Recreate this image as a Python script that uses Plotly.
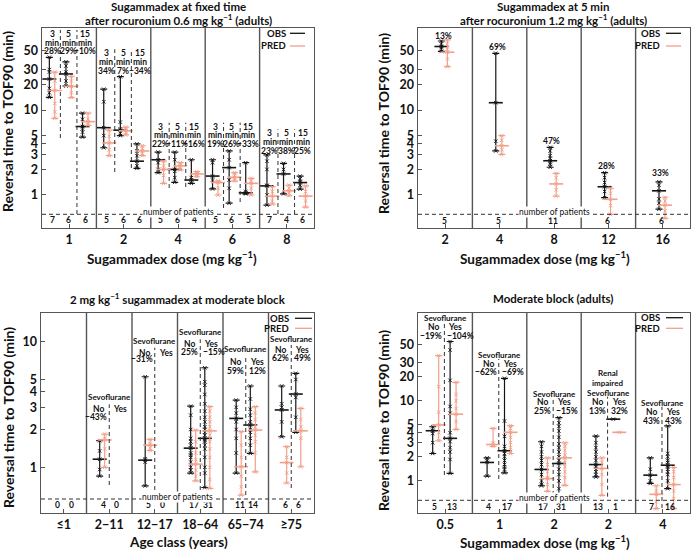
import plotly.graph_objects as go

W, H = 691, 550
OBS_C = "#141414"
PRED_C = "#f2a08a"
FRAME_C = "#555555"
DASH_C = "#333333"
FONT = "Lato"

# ================= DATA =================
# Panel A: sugammadex at fixed time after rocuronium 0.6 mg/kg
a_doses = ["1", "2", "4", "6", "8"]
a_times = ["3", "5", "15"]
a_pct = [["28%", "29%", "−10%"], ["34%", "7%", "−34%"], ["22%", "−11%", "−16%"],
         ["19%", "26%", "−33%"], ["23%", "38%", "25%"]]
a_n = [[7, 6, 6], [5, 6, 6], [5, 6, 4], [5, 6, 5], [7, 4, 6]]
a_obs_med = [[23.2, 26.6, 6.4], [6.2, 5.8, 2.5], [2.6, 2.0, 1.5], [1.67, 2.1, 1.06], [1.28, 1.77, 1.4]]
a_obs_pts = [
    [[41.8, 30, 28, 23.2, 18, 16, 14.1], [37, 33, 28, 26.6, 22, 19.2], [9.2, 7.8, 6.4, 6.0, 5.5, 4.8]],
    [[17.6, 12.5, 6.2, 5.0, 3.6], [24.7, 7.2, 6.0, 5.8, 5.3, 5.0], [4.0, 3.3, 2.9, 2.5, 2.2, 2.06]],
    [[3.2, 2.6, 2.4, 2.0, 1.83], [3.2, 2.6, 2.0, 1.9, 1.6, 1.41], [2.6, 1.6, 1.5, 1.37]],
    [[2.6, 2.4, 1.67, 1.5, 1.18], [3.3, 2.6, 2.1, 1.5, 1.2, 0.8], [2.4, 1.1, 1.06, 1.05, 1.03]],
    [[2.96, 2.5, 2.0, 1.3, 1.28, 1.0, 0.76], [2.36, 2.0, 1.77, 1.03], [1.67, 1.55, 1.45, 1.4, 1.3, 1.17]],
]
a_pred_med = [[17, 19, 7.3], [4.1, 5.7, 3.3], [2.0, 2.2, 1.77], [1.4, 1.62, 1.37], [0.97, 1.12, 0.97]]
a_pred_pts = [
    [[28, 22, 17, 12, 9.5, 8], [25, 22, 19, 16, 14], [9.2, 7.8, 7.3, 6.8, 6.6]],
    [[5.8, 4.9, 4.1, 3.4, 2.9], [6.3, 6.0, 5.7, 5.4, 5.1], [3.8, 3.5, 3.3, 3.1, 2.9]],
    [[2.5, 2.2, 2.0, 1.7, 1.37], [2.4, 2.3, 2.2, 2.1, 1.97], [1.88, 1.8, 1.77, 1.7, 1.64]],
    [[1.46, 1.42, 1.4, 1.2, 1.0], [1.83, 1.7, 1.62, 1.55, 1.46], [1.57, 1.45, 1.37, 1.2, 1.0]],
    [[1.25, 1.1, 0.97, 0.85, 0.78], [1.31, 1.2, 1.12, 1.05, 0.98], [1.28, 1.1, 0.97, 0.85, 0.72]],
]

# Panel B: sugammadex at 5 min after rocuronium 1.2 mg/kg
b_doses = ["2", "4", "8", "12", "16"]
b_pct = ["13%", "69%", "47%", "28%", "33%"]
b_n = [5, 5, 11, 6, 6]
b_obs_med = [56, 12.2, 2.53, 1.25, 1.12]
b_obs_pts = [[65, 60, 56, 52, 49], [46.6, 12.2, 4.3, 3.3],
             [3.64, 3.3, 2.9, 2.7, 2.53, 2.4, 2.3, 2.12],
             [1.83, 1.6, 1.4, 1.25, 1.1, 0.93], [1.43, 1.3, 1.12, 0.9, 0.8, 0.68]]
b_pred_med = [48, 3.8, 1.35, 0.89, 0.76]
b_pred_pts = [[67, 60, 52, 48, 40, 32.4], [5.0, 4.4, 3.8, 3.4, 3.0], [1.8, 1.6, 1.35, 1.15, 0.97],
              [1.2, 1.05, 0.89, 0.75, 0.59], [0.94, 0.85, 0.76, 0.65, 0.53]]

# Panel C: 2 mg/kg sugammadex at moderate block, by age class
c_ages = ["≤1", "2−11", "12−17", "18−64", "65−74", "≥75"]
c_sevo = ["No", "Yes"]
c_pct = [None, ["−43%", ""], ["−31%", ""], ["25%", "−15%"], ["59%", "12%"], ["62%", "49%"]]
c_n = [[0, 0], [4, 0], [5, 0], [17, 31], [11, 14], [6, 6]]
c_obs_med = [[None, None], [1.16, None], [1.14, None], [1.42, 1.70], [2.45, 2.17], [2.86, 3.83]]
c_obs_pts = [
    [[], []],
    [[1.63, 1.35, 1.16, 0.96, 0.85], []],
    [[5.26, 1.17, 1.14, 1.1, 0.71], []],
    [[3.07, 2.6, 2.0, 1.7, 1.6, 1.5, 1.42, 1.3, 1.25, 1.2, 1.1, 1.0, 0.95, 0.9],
     [6.2, 4.8, 4.5, 3.8, 3.2, 2.8, 2.5, 2.3, 2.1, 2.0, 1.9, 1.8, 1.7, 1.65, 1.6, 1.5, 1.4, 1.2, 1.0, 0.9, 0.69]],
    [[3.43, 3.0, 2.7, 2.45, 2.3, 2.0, 1.7, 1.3, 0.9],
     [4.44, 3.5, 2.9, 2.6, 2.3, 2.17, 2.0, 1.9, 1.7, 1.5, 1.29]],
    [[4.44, 3.2, 3.0, 2.86, 2.3, 1.75], [5.6, 5.0, 3.83, 3.6, 2.5, 1.9]],
]
c_pred_med = [[None, None], [1.65, None], [1.5, None], [1.06, 1.95], [1.01, 1.98], [1.09, 1.95]]
c_pred_pts = [
    [[], []],
    [[1.84, 1.7, 1.65, 1.4, 1.0], []],
    [[1.67, 1.55, 1.5, 1.42, 1.36], []],
    [[1.98, 1.6, 1.3, 1.15, 1.06, 0.95, 0.85, 0.78],
     [3.04, 2.8, 2.5, 2.3, 2.1, 1.95, 1.8, 1.6, 1.4, 1.2, 1.0, 0.8, 0.68]],
    [[1.92, 1.5, 1.2, 1.01, 0.85, 0.7, 0.6], [3.04, 2.7, 2.4, 2.1, 1.98, 1.8, 1.6, 1.3, 0.92]],
    [[1.46, 1.2, 1.09, 0.9, 0.75], [2.95, 2.4, 2.1, 1.95, 1.7, 1.01]],
]

# Panel D: moderate block (adults)
d_doses = ["0.5", "1", "2", "2", "4"]
d_head = [["Sevoflurane"], ["Sevoflurane"], ["Sevoflurane"], ["Renal", "impaired", "Sevoflurane"], ["Sevoflurane"]]
d_pct = [["−19%", "−104%"], ["−62%", "−69%"], ["25%", "−15%"], ["13%", "32%"], ["43%", "43%"]]
d_n = [[5, 13], [4, 17], [17, 31], [13, 1], [7, 16]]
d_obs_med = [[4.23, 3.4], [1.7, 2.38], [1.39, 1.65], [1.6, 5.9], [1.18, 1.57]]
d_obs_pts = [
    [[4.74, 4.23, 3.9, 3.0, 2.2], [55, 43, 18, 8.5, 7, 4.0, 3.4, 3.1, 2.6, 2.3, 1.85, 1.24]],
    [[1.94, 1.8, 1.7, 1.15], [19.1, 5.6, 3.6, 2.7, 2.38, 2.2, 2.0, 1.8, 1.6, 1.5, 1.4, 1.26]],
    [[3.08, 2.7, 2.3, 2.0, 1.8, 1.6, 1.39, 1.2, 1.0, 0.9, 0.87],
     [6.15, 5.3, 4.8, 4.2, 3.5, 2.9, 2.6, 2.3, 2.0, 1.8, 1.65, 1.4, 1.2, 1.0, 0.8, 0.66]],
    [[3.63, 3.0, 2.6, 2.3, 2.0, 1.8, 1.6, 1.5, 1.4, 1.3, 1.2, 1.12], [5.9]],
    [[1.94, 1.4, 1.18, 1.0, 0.93], [4.85, 2.2, 2.0, 1.8, 1.7, 1.57, 1.5, 1.4, 1.3, 1.2, 1.0, 0.8]],
]
d_pred_med = [[5.0, 6.8], [2.85, 4.04], [1.07, 1.94], [1.43, 4.04], [0.68, 0.9]]
d_pred_pts = [
    [[36.7, 15, 7.2, 5.0, 4.0, 3.17], [17, 12, 10, 8, 6.8, 5.5, 4.4]],
    [[4.53, 3.0, 2.85, 2.7], [4.9, 4.5, 4.04, 3.5, 3.0, 2.6, 2.2]],
    [[1.94, 1.6, 1.3, 1.1, 1.07, 0.9, 0.74], [2.99, 2.7, 2.4, 2.1, 1.94, 1.7, 1.5, 1.3, 1.1, 0.88]],
    [[1.94, 1.7, 1.43, 1.2, 0.9, 0.66], [4.04]],
    [[0.87, 0.75, 0.68, 0.55, 0.45], [1.47, 1.3, 1.1, 0.9, 0.75, 0.6, 0.45]],
]

yticks_wide = [1, 2, 3, 4, 5, 10, 20, 30, 50]
yticks_c = [1, 2, 3, 4, 5, 10]

# ================= LAYOUT HELPERS =================
fig = go.Figure()
annotations = []
shapes = []


def sfx(k):
    return "" if k == 1 else str(k)


def dom_y(box, py):
    return (box[3] - py) / (box[3] - box[1])


def text(s, xref, x, yref, y, size=9, xanchor="center", bold=True, bg=None,
         angle=0, xshift=0, color="#111111"):
    a = dict(text=f"<b>{s}</b>" if bold else s, xref=xref, x=x, yref=yref, y=y,
             showarrow=False, xanchor=xanchor, yanchor="middle", xshift=xshift,
             font=dict(family=FONT, size=size, color=color), textangle=angle, borderpad=0)
    if bg:
        a["bgcolor"] = bg
    annotations.append(a)


def build_axes(k, box, yr, xlabels, yticks):
    s = sfx(k)
    x0, y0, x1, y1 = box
    n = len(xlabels)
    fig.layout["xaxis" + s] = dict(
        domain=[x0 / W, x1 / W], range=[0, n], anchor="y" + s,
        tickvals=[i + 0.5 for i in range(n)], ticktext=[f"<b>{t}</b>" for t in xlabels],
        ticks="inside", ticklen=4, tickwidth=1, tickcolor=FRAME_C,
        showline=True, linecolor=FRAME_C, linewidth=1.4, mirror=True,
        showgrid=False, zeroline=False, fixedrange=True,
        tickfont=dict(family=FONT, size=12.5, color="#111"))
    fig.layout["yaxis" + s] = dict(
        domain=[1 - y1 / H, 1 - y0 / H], type="log", range=list(yr), anchor="x" + s,
        tickvals=yticks, ticktext=[f"<b>{v}</b>" for v in yticks],
        ticks="inside", ticklen=4, tickwidth=1, tickcolor=FRAME_C,
        showline=True, linecolor=FRAME_C, linewidth=1.4, mirror=True,
        showgrid=False, zeroline=False, fixedrange=True,
        tickfont=dict(family=FONT, size=12.5, color="#111"))
    for i in range(1, n):
        shapes.append(dict(type="line", xref="x" + s, x0=i, x1=i, yref=f"y{s} domain", y0=0, y1=1,
                           line=dict(color=FRAME_C, width=1.4)))


def add_bars(k, xs, meds, pts, color):
    s = sfx(k)
    bx, by, up, dn, px, py = [], [], [], [], [], []
    for x, m, p in zip(xs, meds, pts):
        if not p:
            continue
        bx.append(x)
        by.append(m)
        up.append(max(p) - m)
        dn.append(m - min(p))
        px += [x] * len(p)
        py += p
    fig.add_trace(go.Scatter(x=px, y=py, mode="markers", xaxis="x" + s, yaxis="y" + s,
                             marker=dict(symbol="x-thin", size=3.5, color=color, line=dict(color=color, width=0.9)),
                             hoverinfo="skip", showlegend=False))
    fig.add_trace(go.Scatter(x=bx, y=by, mode="markers", xaxis="x" + s, yaxis="y" + s,
                             marker=dict(symbol="line-ew", size=10, color=color, line=dict(color=color, width=1.6)),
                             error_y=dict(type="data", symmetric=False, array=up, arrayminus=dn,
                                          color=color, thickness=1.2, width=3.5),
                             hoverinfo="skip", showlegend=False))


def vdash(k, box, x, top_px, bot_px):
    s = sfx(k)
    shapes.append(dict(type="line", xref="x" + s, x0=x, x1=x, yref=f"y{s} domain",
                       y0=dom_y(box, bot_px), y1=dom_y(box, top_px),
                       line=dict(color=DASH_C, width=1, dash="4px,3px")))


def patients_line(k, box, line_px, text_px):
    s = sfx(k)
    shapes.append(dict(type="line", xref=f"x{s} domain", x0=0, x1=1, yref=f"y{s} domain",
                       y0=dom_y(box, line_px), y1=dom_y(box, line_px),
                       line=dict(color=DASH_C, width=1, dash="4px,3px")))
    text("number of patients", f"x{s} domain", 0.5, f"y{s} domain", dom_y(box, text_px),
         size=8.5, bold=False, bg="white")


def legend(right_px, line0, line1, y_obs, y_pred):
    for lab, yy, c in (("OBS", y_obs, OBS_C), ("PRED", y_pred, PRED_C)):
        text(lab, "paper", right_px / W, "paper", 1 - yy / H, size=9.5, xanchor="right")
        shapes.append(dict(type="line", xref="paper", yref="paper", x0=line0 / W, x1=line1 / W,
                           y0=1 - yy / H, y1=1 - yy / H, line=dict(color=c, width=1.3)))


def ptext(s, xpx, ypx, size, angle=0):
    text(s, "paper", xpx / W, "paper", 1 - ypx / H, size=size, angle=angle)


KG = "mg kg<sup>−1</sup>"
LBL = 8.5

# ================= PANEL A =================
boxA = (42, 28, 314, 228)
build_axes(1, boxA, (-0.3886, 1.966), a_doses, yticks_wide)
a_label_top = [34, 53.3, 126.7, 126.7, 133.3]
a_dash_bot = [[138, 214], [172, 168], [188, 187], [208, 202], [214, 214]]
xo, mo, po, xp, mp, pp = [], [], [], [], [], []
for i in range(len(a_doses)):
    for j in range(len(a_times)):
        xo.append(i + 0.135 + 0.305 * j); mo.append(a_obs_med[i][j]); po.append(a_obs_pts[i][j])
        xp.append(i + 0.235 + 0.305 * j); mp.append(a_pred_med[i][j]); pp.append(a_pred_pts[i][j])
        xc = i + 0.185 + 0.305 * j
        for r, t in enumerate([a_times[j], "min", a_pct[i][j]]):
            text(t, "x", xc, "y domain", dom_y(boxA, a_label_top[i] + 8.7 * r), size=LBL)
        text(str(a_n[i][j]), "x", xc, "y domain", dom_y(boxA, 220), size=8.5)
    for d, xd in enumerate([i + 0.3375, i + 0.6425]):
        vdash(1, boxA, xd, a_label_top[i] - 4, a_dash_bot[i][d])
add_bars(1, xo, mo, po, OBS_C)
add_bars(1, xp, mp, pp, PRED_C)
patients_line(1, boxA, 214.3, 212)
legend(287, 290, 305, 33.3, 46)
ptext("Sugammadex at fixed time", 178, 6.5, 11.5)
ptext(f"after rocuronium 0.6 {KG} (adults)", 178, 19.5, 11.5)
ptext("Reversal time to TOF90 (min)", 8, 122, 14, angle=-90)
ptext(f"Sugammadex dose ({KG})", 172, 258, 13.5)

# ================= PANEL B =================
boxB = (418, 28, 690, 228)
build_axes(2, boxB, (-0.3886, 1.966), b_doses, yticks_wide)
b_pct_px = [35.7, 46.7, 140.7, 166, 173.3]
add_bars(2, [i + 0.43 for i in range(5)], b_obs_med, b_obs_pts, OBS_C)
add_bars(2, [i + 0.54 for i in range(5)], b_pred_med, b_pred_pts, PRED_C)
for i in range(5):
    text(b_pct[i], "x2", i + 0.46, "y2 domain", dom_y(boxB, b_pct_px[i]), size=LBL)
    text(str(b_n[i]), "x2", i + 0.48, "y2 domain", dom_y(boxB, 220.7), size=8.5)
patients_line(2, boxB, 214.3, 212.3)
legend(661, 666, 681, 33.3, 46)
ptext("Sugammadex at 5 min", 553, 6.5, 11.5)
ptext(f"after rocuronium 1.2 {KG} (adults)", 553, 19.5, 11.5)
ptext("Reversal time to TOF90 (min)", 383, 124, 14, angle=-90)
ptext(f"Sugammadex dose ({KG})", 545, 258, 13.5)

# ================= PANEL C =================
boxC = (41, 313, 314, 513)
build_axes(3, boxC, (-0.364, 1.2285), c_ages, yticks_c)
c_rows = [None, (396.7, 409.3, 417.3), (340.7, 352.7, 359), (331.7, 344.3, 351.7),
          (349, 362.3, 370.7), (339.3, 350, 358.3)]
c_dash_bot = [None, 485, 490, 497, 495, 488]
xo, mo, po, xp, mp, pp = [], [], [], [], [], []
for i in range(len(c_ages)):
    for j in range(2):
        xo.append(i + 0.29 + 0.31 * j); mo.append(c_obs_med[i][j]); po.append(c_obs_pts[i][j])
        xp.append(i + 0.40 + 0.31 * j); mp.append(c_pred_med[i][j]); pp.append(c_pred_pts[i][j])
        text(str(c_n[i][j]), "x3", i + 0.37 + 0.30 * j, "y3 domain", dom_y(boxC, 505), size=8.5)
    if c_rows[i]:
        r0, r1, r2 = c_rows[i]
        text("Sevoflurane", "x3", i + 0.5, "y3 domain", dom_y(boxC, r0), size=8)
        text(c_sevo[0], "x3", i + 0.5, "y3 domain", dom_y(boxC, r1), size=LBL, xanchor="right", xshift=-4)
        text(c_sevo[1], "x3", i + 0.5, "y3 domain", dom_y(boxC, r1), size=LBL, xanchor="left", xshift=3)
        text(c_pct[i][0], "x3", i + 0.5, "y3 domain", dom_y(boxC, r2), size=LBL, xanchor="right", xshift=-1)
        if c_pct[i][1]:
            text(c_pct[i][1], "x3", i + 0.5, "y3 domain", dom_y(boxC, r2), size=LBL, xanchor="left", xshift=2)
        vdash(3, boxC, i + 0.5, r1 - 5, c_dash_bot[i])
add_bars(3, xo, mo, po, OBS_C)
add_bars(3, xp, mp, pp, PRED_C)
patients_line(3, boxC, 499, 497.3)
legend(290, 295, 312, 318.3, 328.3)
ptext(f"2 {KG} sugammadex at moderate block", 178, 299, 11.5)
ptext("Reversal time to TOF90 (min)", 8, 418, 14, angle=-90)
ptext("Age class (years)", 178, 541.7, 13.5)

# ================= PANEL D =================
boxD = (418, 313, 690, 513)
build_axes(4, boxD, (-0.4006, 2.096), d_doses, yticks_wide)
d_head_px = [[318.3], [355], [394], [372.7, 382.7, 392.7], [403.3]]
d_noyes_px = [326.7, 364, 402.3, 401.7, 411.7]
d_pct_px = [336, 372.3, 411, 411, 420.7]
d_dash_bot = [475, 479, 495, 496.7, 508]
xo, mo, po, xp, mp, pp = [], [], [], [], [], []
for i in range(len(d_doses)):
    for j in range(2):
        xo.append(i + 0.27 + 0.32 * j); mo.append(d_obs_med[i][j]); po.append(d_obs_pts[i][j])
        xp.append(i + 0.38 + 0.32 * j); mp.append(d_pred_med[i][j]); pp.append(d_pred_pts[i][j])
        text(str(d_n[i][j]), "x4", i + 0.30 + 0.33 * j, "y4 domain", dom_y(boxD, 507.3), size=8.5)
    for t, ypx in zip(d_head[i], d_head_px[i]):
        text(t, "x4", i + 0.5, "y4 domain", dom_y(boxD, ypx), size=8)
    text(c_sevo[0], "x4", i + 0.485, "y4 domain", dom_y(boxD, d_noyes_px[i]), size=LBL, xanchor="right", xshift=-4)
    text(c_sevo[1], "x4", i + 0.485, "y4 domain", dom_y(boxD, d_noyes_px[i]), size=LBL, xanchor="left", xshift=3)
    text(d_pct[i][0], "x4", i + 0.485, "y4 domain", dom_y(boxD, d_pct_px[i]), size=LBL, xanchor="right", xshift=-1)
    text(d_pct[i][1], "x4", i + 0.485, "y4 domain", dom_y(boxD, d_pct_px[i]), size=LBL, xanchor="left", xshift=2)
    vdash(4, boxD, i + 0.485, d_noyes_px[i] - 5, d_dash_bot[i])
add_bars(4, xo, mo, po, OBS_C)
add_bars(4, xp, mp, pp, PRED_C)
patients_line(4, boxD, 500.3, 498.3)
legend(661, 666, 683, 317.7, 328.3)
ptext("Moderate block (adults)", 553, 299, 11.5)
ptext("Reversal time to TOF90 (min)", 383, 421, 14, angle=-90)
ptext(f"Sugammadex dose ({KG})", 545, 541.7, 13.5)

fig.update_layout(width=W, height=H, margin=dict(l=0, r=0, t=0, b=0),
                  paper_bgcolor="white", plot_bgcolor="white", showlegend=False,
                  font=dict(family=FONT, color="#111"),
                  annotations=annotations, shapes=shapes)
fig.write_html("out.html", config={"displayModeBar": False, "staticPlot": True},
               post_script="document.body.style.margin='0px';document.body.style.overflow='hidden';")
